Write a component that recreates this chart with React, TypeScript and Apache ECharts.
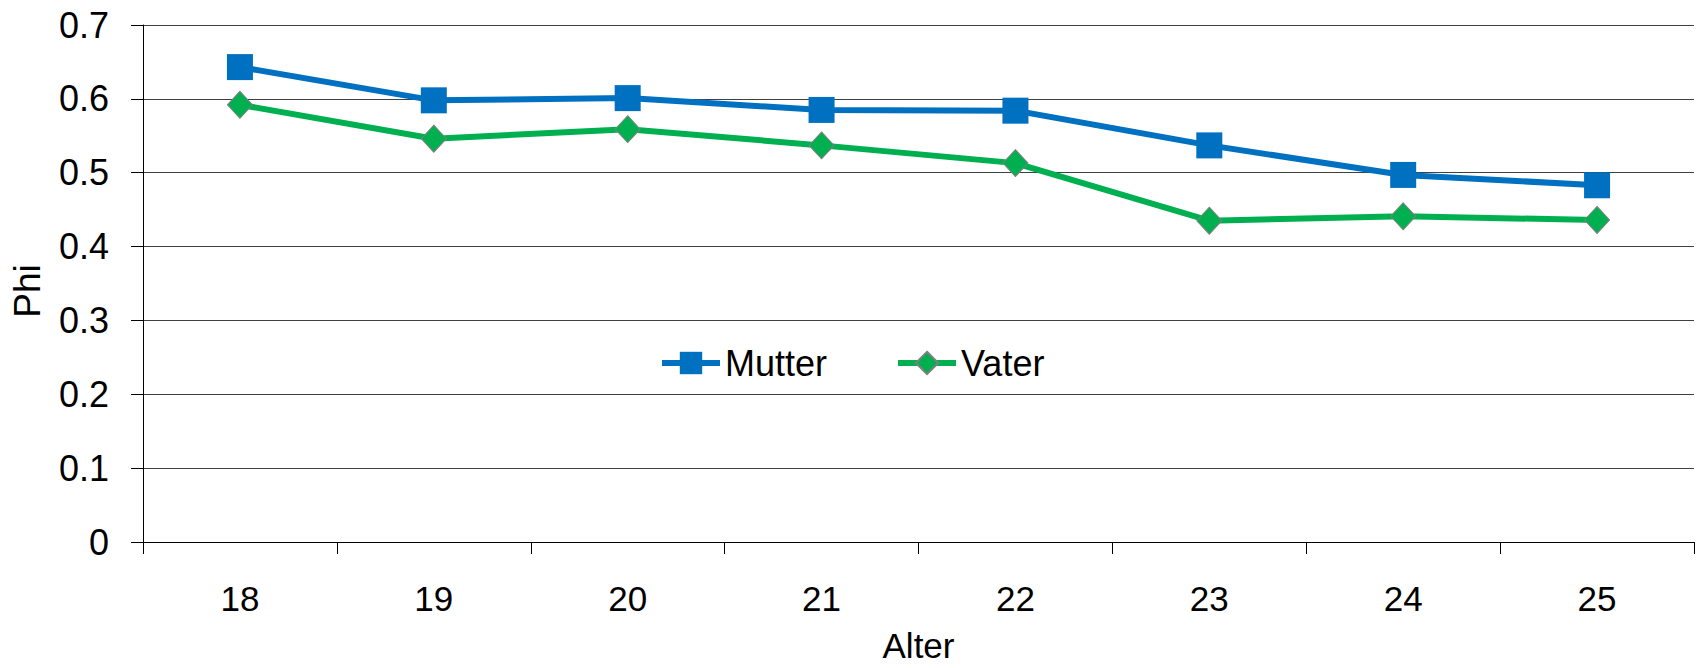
import React, { useEffect, useRef } from "react";
import * as echarts from "echarts";

const categories = ["18", "19", "20", "21", "22", "23", "24", "25"];
const mutter = [0.643, 0.598, 0.601, 0.585, 0.584, 0.537, 0.497, 0.483];
const vater = [0.592, 0.546, 0.559, 0.537, 0.513, 0.435, 0.441, 0.436];
const seriesNames = ["Mutter", "Vater"];
const xAxisTitle = "Alter";
const yAxisTitle = "Phi";

export default function App() {
  const ref = useRef<HTMLDivElement>(null);
  useEffect(() => {
    if (!ref.current) return;
    const chart = echarts.init(ref.current, null, { renderer: "svg" });
    chart.setOption({
      animation: false,
      backgroundColor: "#ffffff",
      grid: { left: 143, right: 3, top: 25, bottom: 120, containLabel: false },
      legend: {
        left: 654,
        top: 340,
        itemWidth: 58,
        itemHeight: 28,
        itemGap: 68,
        lineStyle: { width: 6 },
        textStyle: { fontFamily: "Liberation Sans", fontSize: 36, color: "#000" },
        data: seriesNames,
      },
      xAxis: {
        type: "category",
        data: categories,
        boundaryGap: true,
        name: xAxisTitle,
        nameLocation: "middle",
        nameGap: 86,
        nameTextStyle: { fontFamily: "Liberation Sans", fontSize: 35, color: "#000" },
        axisLine: { show: true, lineStyle: { color: "#000", width: 1 } },
        axisTick: { show: true, length: 12, lineStyle: { color: "#000" } },
        axisLabel: { fontFamily: "Liberation Sans", fontSize: 35, color: "#000", margin: 39 },
        splitLine: { show: false },
      },
      yAxis: {
        type: "value",
        min: 0,
        max: 0.7,
        interval: 0.1,
        axisLine: { show: true, lineStyle: { color: "#000", width: 1 } },
        axisTick: { show: true, length: 12, lineStyle: { color: "#000" } },
        axisLabel: {
          fontFamily: "Liberation Sans",
          fontSize: 36,
          color: "#000",
          margin: 34,
          formatter: (v: number) => String(+v.toFixed(1)),
        },
        splitLine: { show: true, lineStyle: { color: "#404040", width: 1 } },
      },
      graphic: [
        {
          type: "text",
          x: 27,
          y: 291,
          rotation: Math.PI / 2,
          style: {
            text: yAxisTitle,
            fontFamily: "Liberation Sans",
            fontSize: 37,
            fill: "#000",
            align: "center",
            verticalAlign: "middle",
          },
        },
      ],
      series: [
        {
          name: seriesNames[0],
          type: "line",
          data: mutter,
          symbol: "rect",
          symbolSize: 26,
          lineStyle: { color: "#0070C0", width: 6 },
          itemStyle: { color: "#0070C0" },
        },
        {
          name: seriesNames[1],
          type: "line",
          data: vater,
          symbol: "diamond",
          symbolSize: [25, 27],
          lineStyle: { color: "#00B050", width: 6 },
          itemStyle: { color: "#00B050", borderColor: "#7f7f7f", borderWidth: 1 },
        },
      ],
    });
    return () => chart.dispose();
  }, []);
  return (
    <div
      ref={ref}
      style={{ position: "fixed", left: 0, top: 0, width: 1697, height: 668 }}
    />
  );
}
